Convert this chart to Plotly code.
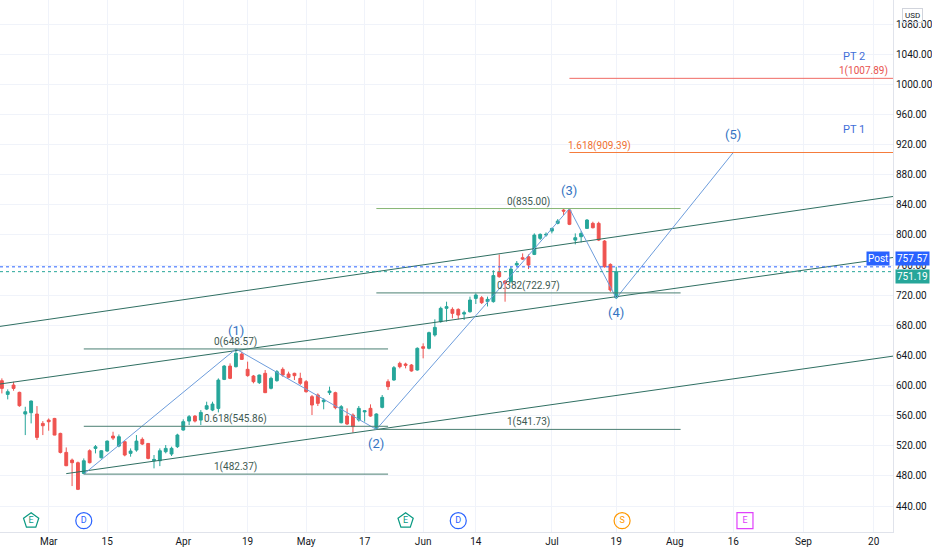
import plotly.graph_objects as go

# NVDA daily candles (pre-split)
dates = [
    "2021-02-17", "2021-02-18", "2021-02-19", "2021-02-22", "2021-02-23", "2021-02-24",
    "2021-02-25", "2021-02-26", "2021-03-01", "2021-03-02", "2021-03-03", "2021-03-04",
    "2021-03-05", "2021-03-08", "2021-03-09", "2021-03-10", "2021-03-11", "2021-03-12",
    "2021-03-15", "2021-03-16", "2021-03-17", "2021-03-18", "2021-03-19", "2021-03-22",
    "2021-03-23", "2021-03-24", "2021-03-25", "2021-03-26", "2021-03-29", "2021-03-30",
    "2021-03-31", "2021-04-01", "2021-04-05", "2021-04-06", "2021-04-07", "2021-04-08",
    "2021-04-09", "2021-04-12", "2021-04-13", "2021-04-14", "2021-04-15", "2021-04-16",
    "2021-04-19", "2021-04-20", "2021-04-21", "2021-04-22", "2021-04-23", "2021-04-26",
    "2021-04-27", "2021-04-28", "2021-04-29", "2021-04-30", "2021-05-03", "2021-05-04",
    "2021-05-05", "2021-05-06", "2021-05-07", "2021-05-10", "2021-05-11", "2021-05-12",
    "2021-05-13", "2021-05-14", "2021-05-17", "2021-05-18", "2021-05-19", "2021-05-20",
    "2021-05-21", "2021-05-24", "2021-05-25", "2021-05-26", "2021-05-27", "2021-05-28",
    "2021-06-01", "2021-06-02", "2021-06-03", "2021-06-04", "2021-06-07", "2021-06-08",
    "2021-06-09", "2021-06-10", "2021-06-11", "2021-06-14", "2021-06-15", "2021-06-16",
    "2021-06-17", "2021-06-18", "2021-06-21", "2021-06-22", "2021-06-23", "2021-06-24",
    "2021-06-25", "2021-06-28", "2021-06-29", "2021-06-30", "2021-07-01", "2021-07-02",
    "2021-07-06", "2021-07-07", "2021-07-08", "2021-07-09", "2021-07-12", "2021-07-13",
    "2021-07-14", "2021-07-15", "2021-07-16", "2021-07-19",
]
opens = [
    606.4, 588.2, 600.6, 590.9, 562.1, 563.9, 562.1, 549.7, 554.1, 556.3, 536.4, 511.2,
    501.0, 497.5, 483.3, 513.4, 516.5, 504.1, 513.0, 532.9, 519.6, 525.4, 509.9, 514.3,
    528.5, 523.1, 500.1, 500.1, 512.1, 509.0, 518.8, 540.9, 552.8, 559.4, 554.1, 568.7,
    567.4, 569.6, 608.1, 625.8, 625.0, 641.8, 621.5, 612.6, 603.8, 616.2, 596.3, 606.4,
    621.5, 615.3, 616.2, 609.5, 605.1, 585.2, 587.4, 578.5, 590.5, 590.5, 550.6, 559.5,
    560.8, 554.2, 565.0, 569.7, 543.1, 571.0, 605.1, 607.3, 629.4, 628.5, 627.2, 620.6,
    651.6, 649.4, 667.1, 684.8, 702.5, 701.1, 701.1, 694.9, 698.0, 715.7, 716.6, 711.4,
    711.4, 751.1, 738.7, 737.8, 760.0, 769.7, 771.0, 774.1, 795.4, 799.8, 805.1, 815.3,
    832.9, 833.0, 793.1, 797.6, 808.6, 815.3, 815.3, 791.8, 760.8, 716.6,
]
highs = [
    609.5, 594.9, 605.0, 591.8, 571.8, 580.0, 572.7, 552.8, 556.3, 557.0, 537.3, 517.8,
    503.0, 499.0, 503.2, 515.2, 521.0, 514.0, 527.0, 538.6, 535.0, 526.0, 516.5, 534.2,
    531.1, 523.5, 507.7, 516.5, 521.0, 518.8, 536.0, 555.1, 560.8, 560.8, 567.4, 578.5,
    578.5, 609.5, 627.2, 629.4, 648.57, 644.9, 631.7, 614.0, 614.5, 620.6, 611.7, 620.6,
    624.1, 618.4, 617.0, 617.0, 607.3, 587.4, 589.6, 583.0, 598.5, 591.8, 574.0, 569.7,
    563.0, 572.8, 566.8, 575.0, 563.1, 587.4, 608.2, 625.9, 631.6, 630.3, 628.5, 650.7,
    656.0, 671.5, 687.9, 704.7, 711.3, 703.8, 702.5, 699.4, 718.0, 722.4, 718.8, 718.0,
    753.0, 774.0, 740.0, 757.7, 765.3, 775.4, 774.1, 802.0, 802.0, 803.3, 809.5, 821.0,
    834.3, 835.0, 802.0, 805.0, 821.0, 817.5, 817.5, 793.1, 762.2, 757.7,
]
lows = [
    589.5, 581.6, 593.1, 571.8, 534.2, 549.7, 527.6, 534.2, 540.0, 534.0, 509.8, 493.0,
    466.5, 461.2, 482.37, 496.6, 509.9, 503.0, 512.0, 527.6, 518.0, 506.0, 505.5, 512.1,
    520.9, 502.0, 490.0, 493.0, 509.9, 506.4, 517.0, 540.0, 547.5, 551.0, 547.5, 567.4,
    566.0, 564.3, 607.2, 608.5, 624.0, 633.9, 611.7, 602.9, 602.0, 590.0, 594.9, 605.1,
    611.7, 609.5, 607.3, 600.7, 590.5, 560.8, 572.8, 568.4, 587.4, 568.4, 549.8, 547.6,
    537.4, 552.0, 552.0, 558.6, 541.73, 569.7, 594.0, 606.4, 622.8, 622.8, 618.4, 619.7,
    636.1, 648.0, 664.9, 683.4, 684.8, 689.2, 687.9, 687.0, 696.7, 708.2, 708.2, 705.0,
    710.0, 743.1, 711.3, 736.9, 757.7, 766.6, 754.6, 773.2, 793.1, 797.6, 802.0, 814.0,
    826.4, 813.0, 787.4, 790.0, 808.6, 808.6, 791.8, 756.4, 724.5, 714.8,
]
closes = [
    596.2, 591.8, 596.2, 573.2, 565.2, 579.4, 531.1, 546.6, 551.9, 534.2, 511.2, 493.5,
    497.5, 462.1, 500.1, 497.5, 518.7, 513.4, 526.2, 530.2, 532.0, 507.7, 513.0, 526.2,
    522.3, 503.2, 501.9, 513.4, 516.5, 516.6, 534.3, 552.0, 558.6, 552.8, 564.3, 573.2,
    575.4, 607.2, 625.8, 609.5, 642.7, 634.7, 613.1, 605.1, 613.9, 590.5, 609.5, 618.4,
    613.9, 610.9, 613.1, 602.9, 591.8, 574.1, 576.3, 580.7, 592.7, 570.6, 571.9, 548.9,
    545.4, 569.7, 566.5, 559.5, 562.2, 584.3, 598.5, 623.7, 625.0, 626.8, 619.3, 649.4,
    649.4, 670.2, 677.2, 702.5, 704.7, 695.8, 693.6, 696.7, 713.5, 720.2, 710.0, 714.4,
    746.0, 744.5, 735.6, 754.6, 762.2, 767.9, 760.0, 799.8, 800.7, 800.7, 808.6, 818.4,
    831.6, 814.0, 796.3, 802.0, 819.7, 809.5, 793.1, 757.7, 726.8, 751.19,
]

# Elliott wave points
wave_dates = ["2021-03-09", "2021-04-15", "2021-05-19", "2021-07-07", "2021-07-19", "2021-08-16"]
wave_prices = [482.37, 648.57, 541.73, 835.00, 716.0, 909.39]
wave_labels = ["", "(1)", "(2)", "(3)", "(4)", "(5)"]

# Fib levels and their labels
fib1_levels = [648.57, 545.86, 482.37]
fib1_labels = ["0(648.57)", "0.618(545.86)", "1(482.37)"]
fib2_levels = [835.00, 722.97, 541.73]
fib2_labels = ["0(835.00)", "0.382(722.97)", "1(541.73)"]
fib3_levels = [909.39, 1007.89]
fib3_labels = ["1.618(909.39)", "1(1007.89)"]

# Channel lines (price at start, price at right edge)
chan_top = [678.5, 851.0]
chan_mid = [602.0, 770.0]
chan_low = [483.0, 639.0]

# Events along the bottom
event_dates = ["2021-02-24", "2021-03-09", "2021-05-26", "2021-06-09", "2021-07-20", "2021-08-18"]
event_text = ["E", "D", "E", "D", "S", "E"]
event_colors = ["#089981", "#2962ff", "#089981", "#2962ff", "#ff9800", "#e040fb"]
event_symbols = ["pentagon-open", "circle-open", "pentagon-open", "circle-open", "circle-open", "square-open"]

tick_dates = ["2021-03-01", "2021-03-15", "2021-04-01", "2021-04-19", "2021-05-03", "2021-05-17",
              "2021-06-01", "2021-06-14", "2021-07-01", "2021-07-19", "2021-08-02", "2021-08-16",
              "2021-09-01", "2021-09-20"]
tick_text = ["Mar", "15", "Apr", "19", "May", "17", "Jun", "14", "Jul", "19", "Aug", "16", "Sep", "20"]

holidays = ["2021-02-15", "2021-04-02", "2021-05-31", "2021-07-05", "2021-09-06"]

last_close = 751.19
post_price = 757.57

X_START = "2021-02-16 16:19"
X_END = "2021-09-23 07:12"
Y_RANGE = [405.5, 1111.9]

UP = "#26a69a"
DOWN = "#ef5350"
CHAN = "#2f6f62"
FIB = "#4a7f72"
FIB_TXT = "#3e5a52"
WAVE = "#3474c2"
FONT = "Roboto"

fig = go.Figure()

fig.add_trace(go.Candlestick(
    x=dates, open=opens, high=highs, low=lows, close=closes,
    increasing=dict(line=dict(color=UP, width=1), fillcolor=UP),
    decreasing=dict(line=dict(color=DOWN, width=1), fillcolor=DOWN),
    whiskerwidth=0, hoverinfo="skip", showlegend=False,
))

# channel lines
for x0, p in [(X_START, chan_top), (X_START, chan_mid), ("2021-03-04", chan_low)]:
    fig.add_trace(go.Scatter(x=[x0, X_END], y=p, mode="lines",
                             line=dict(color=CHAN, width=1), hoverinfo="skip", showlegend=False))

# wave zigzag
fig.add_trace(go.Scatter(x=wave_dates, y=wave_prices, mode="lines",
                         line=dict(color="#6d9ddc", width=1), hoverinfo="skip", showlegend=False))

# events
fig.add_trace(go.Scatter(
    x=event_dates, y=[420.5] * len(event_dates), mode="markers+text",
    text=event_text, textposition="middle center",
    textfont=dict(family=FONT, size=9, color=event_colors),
    marker=dict(symbol=event_symbols, size=16, color=event_colors, line=dict(width=1.2)),
    hoverinfo="skip", showlegend=False, cliponaxis=False,
))

shapes = []
annotations = []


def fib_block(x0, x1, mid, levels, labels, colors):
    for lvl, lab, col in zip(levels, labels, colors):
        shapes.append(dict(type="line", xref="x", yref="y", x0=x0, x1=x1, y0=lvl, y1=lvl,
                           line=dict(color=col, width=1)))
        annotations.append(dict(x=mid, y=lvl, xref="x", yref="y", text=lab, showarrow=False,
                                yanchor="bottom", yshift=-1,
                                font=dict(family=FONT, size=10, color=FIB_TXT)))


fib_block("2021-03-09", "2021-05-21", "2021-04-15", fib1_levels, fib1_labels, [FIB, FIB, FIB])
fib_block("2021-05-19", "2021-08-03", "2021-06-25", fib2_levels, fib2_labels, ["#86b574", FIB, FIB])

# extension targets
shapes.append(dict(type="line", xref="x", yref="y", x0="2021-07-07", x1=X_END,
                   y0=fib3_levels[0], y1=fib3_levels[0], line=dict(color="#f57c3c", width=1)))
shapes.append(dict(type="line", xref="x", yref="y", x0="2021-07-07", x1=X_END,
                   y0=fib3_levels[1], y1=fib3_levels[1], line=dict(color="#f06a64", width=1)))
annotations.append(dict(x="2021-07-07", y=fib3_levels[0], text=fib3_labels[0], showarrow=False,
                        xanchor="left", yanchor="bottom", yshift=-1, xshift=-3,
                        font=dict(family=FONT, size=10, color="#f07030")))
annotations.append(dict(x=0.997, xref="paper", y=fib3_levels[1], text=fib3_labels[1], showarrow=False,
                        xanchor="right", yanchor="bottom", yshift=-1,
                        font=dict(family=FONT, size=10, color="#e8534f")))
annotations.append(dict(x=0.971, xref="paper", y=1037, text="PT 2", showarrow=False,
                        font=dict(family=FONT, size=11, color="#3f6ed8")))
annotations.append(dict(x=0.971, xref="paper", y=940, text="PT 1", showarrow=False,
                        font=dict(family=FONT, size=11, color="#3f6ed8")))

# wave labels
for d, p, lab, up in zip(wave_dates, wave_prices, wave_labels, [0, 1, 0, 1, 0, 1]):
    if not lab:
        continue
    annotations.append(dict(x=d, y=p, text=lab, showarrow=False,
                            yanchor="bottom" if up else "top", yshift=9 if up else -5,
                            font=dict(family=FONT, size=13, color=WAVE)))

# last price lines
shapes.append(dict(type="line", xref="paper", yref="y", x0=0, x1=1, y0=post_price, y1=post_price,
                   line=dict(color="#2962ff", width=1, dash="dot")))
shapes.append(dict(type="line", xref="paper", yref="y", x0=0, x1=1, y0=last_close, y1=last_close,
                   line=dict(color=UP, width=1, dash="dot")))

annotations.append(dict(x=1.002, xref="paper", y=post_price, yshift=8, text="757.57", showarrow=False,
                        xanchor="left", bgcolor="#2962ff", borderpad=1,
                        font=dict(family=FONT, size=10, color="white")))
annotations.append(dict(x=0.997, xref="paper", y=post_price, yshift=8, text="Post", showarrow=False,
                        xanchor="right", bgcolor="#2962ff", borderpad=1,
                        font=dict(family=FONT, size=10, color="white")))
annotations.append(dict(x=1.002, xref="paper", y=last_close, yshift=-5, text="751.19", showarrow=False,
                        xanchor="left", bgcolor=UP, borderpad=1,
                        font=dict(family=FONT, size=10, color="white")))
annotations.append(dict(x=1.022, xref="paper", y=0.985, yref="paper", text="USD", showarrow=False,
                        xanchor="center", bordercolor="#d1d4dc", borderwidth=1, borderpad=2,
                        font=dict(family=FONT, size=8, color="#131722")))

fig.update_layout(
    width=932, height=550,
    margin=dict(l=0, r=39, t=0, b=18),
    paper_bgcolor="white", plot_bgcolor="white",
    showlegend=False, hovermode=False,
    shapes=shapes, annotations=annotations,
    xaxis=dict(
        type="date", range=[X_START, X_END],
        rangebreaks=[dict(bounds=["sat", "mon"]), dict(values=holidays)],
        rangeslider=dict(visible=False),
        tickvals=tick_dates, ticktext=tick_text,
        tickfont=dict(family=FONT, size=10, color="#131722"),
        showgrid=True, gridcolor="#f0f3fa", zeroline=False,
        showline=True, linecolor="#e0e3eb", ticks="", automargin=False,
    ),
    yaxis=dict(
        side="right", range=Y_RANGE, tick0=440, dtick=40, tickformat=".2f",
        tickfont=dict(family=FONT, size=10, color="#131722"),
        showgrid=True, gridcolor="#f0f3fa", zeroline=False,
        showline=True, linecolor="#e0e3eb", ticks="", automargin=False,
    ),
)

# page margin off so the figure sits flush in the window
fig.write_html("out.html", config={"displayModeBar": False},
               post_script="document.body.style.margin='0';")
